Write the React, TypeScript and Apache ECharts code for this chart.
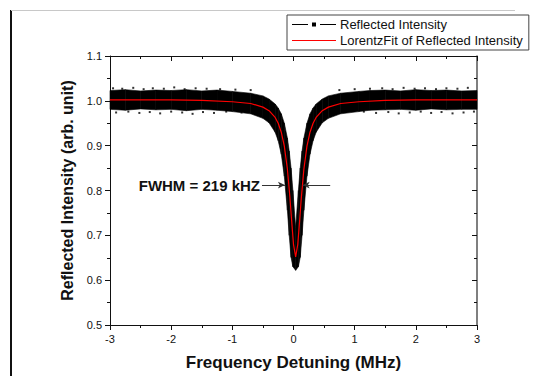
import React, { useEffect, useRef } from "react";
import * as echarts from "echarts";

// Lorentz fit curve
const fitX = [-3, -2.5, -2, -1.5, -1, -0.7, -0.5, -0.4, -0.3, -0.25, -0.2, -0.15, -0.1, -0.06, -0.03, 0, 0.035, 0.07, 0.1, 0.13, 0.17, 0.22, 0.27, 0.32, 0.37, 0.47, 0.57, 0.77, 1.07, 1.5, 2, 2.5, 3];
const fitY = [1.002, 1.002, 1.002, 1.001, 0.998, 0.994, 0.986, 0.978, 0.963, 0.95, 0.93, 0.899, 0.848, 0.787, 0.732, 0.68, 0.652, 0.68, 0.732, 0.787, 0.848, 0.899, 0.93, 0.95, 0.963, 0.978, 0.986, 0.994, 0.998, 1.001, 1.002, 1.002, 1.002];

// Envelope of the measured (noisy) reflected intensity
const bandX = [-3, -2.75, -2.5, -2.25, -2, -1.75, -1.5, -1.25, -1, -0.7, -0.5, -0.4, -0.3, -0.25, -0.2, -0.15, -0.1, -0.07, -0.04, -0.01, 0.035, 0.08, 0.11, 0.14, 0.17, 0.22, 0.27, 0.32, 0.37, 0.47, 0.57, 0.77, 1.07, 1.25, 1.5, 1.75, 2, 2.25, 2.5, 2.75, 3];
const bandHigh = [1.023, 1.025, 1.022, 1.024, 1.023, 1.025, 1.022, 1.024, 1.021, 1.017, 1.011, 1.004, 0.993, 0.984, 0.971, 0.95, 0.917, 0.888, 0.85, 0.8, 0.717, 0.8, 0.85, 0.888, 0.917, 0.95, 0.971, 0.984, 0.993, 1.004, 1.011, 1.017, 1.021, 1.023, 1.024, 1.022, 1.025, 1.023, 1.024, 1.022, 1.023];
const bandLow = [0.981, 0.979, 0.982, 0.98, 0.981, 0.978, 0.981, 0.979, 0.976, 0.971, 0.961, 0.951, 0.93, 0.911, 0.881, 0.832, 0.756, 0.7, 0.651, 0.63, 0.622, 0.63, 0.651, 0.7, 0.756, 0.832, 0.881, 0.911, 0.93, 0.951, 0.961, 0.971, 0.976, 0.979, 0.98, 0.981, 0.979, 0.982, 0.98, 0.981, 0.981];

// Scattered outlier specks above / below the band
const outTopX = [-2.95, -2.8, -2.62, -2.45, -2.3, -2.12, -1.95, -1.78, -1.6, -1.42, -1.2, -0.95, -0.7, 0.75, 1.0, 1.25, 1.45, 1.62, 1.8, 1.98, 2.15, 2.33, 2.5, 2.68, 2.85];
const outTopY = [1.028, 1.027, 1.029, 1.026, 1.028, 1.027, 1.03, 1.026, 1.028, 1.027, 1.026, 1.025, 1.024, 1.024, 1.026, 1.027, 1.028, 1.026, 1.029, 1.027, 1.028, 1.026, 1.028, 1.027, 1.029];
const outBotX = [-2.9, -2.7, -2.52, -2.35, -2.18, -2.0, -1.82, -1.65, -1.48, -1.3, -1.1, -0.85, 0.9, 1.15, 1.35, 1.55, 1.72, 1.9, 2.08, 2.25, 2.42, 2.6, 2.78, 2.95];
const outBotY = [0.974, 0.976, 0.973, 0.975, 0.972, 0.976, 0.974, 0.971, 0.975, 0.973, 0.976, 0.974, 0.977, 0.976, 0.973, 0.975, 0.972, 0.974, 0.976, 0.973, 0.975, 0.972, 0.974, 0.976];

const yTicks = ["0.5", "0.6", "0.7", "0.8", "0.9", "1.0", "1.1"];
const xTicks = ["-3", "-2", "-1", "0", "1", "2", "3"];

// FWHM annotation arrows (data coordinates)
const fwhmLevel = 0.812;
const leftArrow = [-0.515, -0.14];
const rightArrow = [0.6, 0.15];

const FONT = "'Liberation Sans', Arial, sans-serif";

export default function App() {
  const ref = useRef<HTMLDivElement>(null);
  useEffect(() => {
    if (!ref.current) return;
    const chart = echarts.init(ref.current, undefined, { renderer: "svg" });
    const bandData = bandX.map((x, i) => [x, bandLow[i], bandHigh[i]]);
    const outliers = [
      ...outTopX.map((x, i) => [x, outTopY[i]]),
      ...outBotX.map((x, i) => [x, outBotY[i]]),
    ];
    const axisLine = { show: true, onZero: false, lineStyle: { color: "#111", width: 1 } };
    const tick = (inside: boolean) => ({ show: true, inside, length: 5, lineStyle: { color: "#111" } });
    const minor = { show: true, splitNumber: 2, length: 3, lineStyle: { color: "#111" } };
    const option: any = {
      animation: false,
      backgroundColor: "#fff",
      textStyle: { fontFamily: FONT },
      grid: { left: 110, right: 64, top: 56, bottom: 54, containLabel: false },
      legend: {
        left: 287,
        top: 15,
        orient: "vertical",
        padding: [3, 6, 3, 5],
        itemGap: 3,
        itemWidth: 44,
        itemHeight: 10,
        borderColor: "#444",
        borderWidth: 1,
        borderRadius: 0,
        selectedMode: false,
        itemStyle: { borderWidth: 0 },
        textStyle: { fontFamily: FONT, fontSize: 13, color: "#111", padding: [0, 0, 0, -1] },
        data: [
          {
            name: "Reflected Intensity",
            icon: "path://M0,0H0.05V0.05H0Z M0,9.95H0.05V10H0Z M0,4.4H16V5.6H0Z M20,3H24V7H20Z M28,4.4H44V5.6H28Z",
          },
          {
            name: "LorentzFit of Reflected Intensity",
            icon: "path://M0,0H0.05V0.05H0Z M0,9.95H0.05V10H0Z M0,4.4H44V5.6H0Z",
          },
        ],
      },
      xAxis: [
        {
          type: "value",
          position: "bottom",
          min: -3,
          max: 3,
          interval: 1,
          axisLine,
          axisTick: tick(false),
          minorTick: minor,
          splitLine: { show: false },
          axisLabel: {
            margin: 8,
            fontSize: 11,
            color: "#111",
            fontFamily: FONT,
            formatter: (v: number) => xTicks[Math.round(v) + 3] ?? String(v),
          },
          name: "Frequency Detuning (MHz)",
          nameLocation: "middle",
          nameGap: 29,
          nameTextStyle: { fontSize: 17, fontWeight: "bold", color: "#111", fontFamily: FONT },
        },
        {
          type: "value",
          position: "top",
          min: -3,
          max: 3,
          interval: 1,
          axisLine,
          axisTick: tick(true),
          minorTick: minor,
          splitLine: { show: false },
          axisLabel: { show: false },
        },
      ],
      yAxis: [
        {
          type: "value",
          position: "left",
          min: 0.5,
          max: 1.1,
          interval: 0.1,
          axisLine,
          axisTick: tick(false),
          minorTick: minor,
          splitLine: { show: false },
          axisLabel: {
            margin: 8,
            fontSize: 11,
            color: "#111",
            fontFamily: FONT,
            formatter: (v: number) => yTicks[Math.round((v - 0.5) * 10)] ?? v.toFixed(1),
          },
          name: "Reflected Intensity (arb. unit)",
          nameLocation: "middle",
          nameGap: 30,
          nameTextStyle: { fontSize: 16, fontWeight: "bold", color: "#111", fontFamily: FONT },
        },
        {
          type: "value",
          position: "right",
          min: 0.5,
          max: 1.1,
          interval: 0.1,
          axisLine: { show: true, onZero: false, lineStyle: { color: "#555", width: 1.5 } },
          axisTick: tick(true),
          minorTick: minor,
          splitLine: { show: false },
          axisLabel: { show: false },
        },
      ],
      series: [
        {
          name: "Reflected Intensity",
          type: "custom",
          xAxisIndex: 0,
          yAxisIndex: 0,
          itemStyle: { color: "#000" },
          encode: { x: 0, y: [1, 2] },
          data: bandData,
          z: 2,
          renderItem: (params: any, api: any) => {
            const i = params.dataIndex;
            if (i >= bandData.length - 1) return null;
            const a = bandData[i];
            const b = bandData[i + 1];
            const p1 = api.coord([a[0], a[2]]);
            const p2 = api.coord([b[0], b[2]]);
            const p3 = api.coord([b[0], b[1]]);
            const p4 = api.coord([a[0], a[1]]);
            return {
              type: "polygon",
              shape: { points: [p1, p2, p3, p4] },
              style: { fill: "#000", stroke: "#000", lineWidth: 0.6 },
            };
          },
        },
        {
          name: "outliers",
          type: "scatter",
          symbol: "rect",
          symbolSize: 2,
          itemStyle: { color: "#000" },
          data: outliers,
          z: 2,
        },
        {
          name: "LorentzFit of Reflected Intensity",
          type: "line",
          xAxisIndex: 0,
          yAxisIndex: 0,
          showSymbol: false,
          symbol: "none",
          lineStyle: { color: "#ff0000", width: 1.2 },
          itemStyle: { color: "#ff0000" },
          data: fitX.map((x, i) => [x, fitY[i]]),
          z: 3,
          markLine: {
            silent: true,
            symbol: ["none", "arrow"],
            symbolSize: [5, 7],
            label: { show: false },
            lineStyle: { color: "#333", width: 1, type: "solid" },
            data: [
              [{ coord: [leftArrow[0], fwhmLevel] }, { coord: [leftArrow[1], fwhmLevel] }],
              [{ coord: [rightArrow[0], fwhmLevel] }, { coord: [rightArrow[1], fwhmLevel] }],
            ],
          },
        },
      ],
      graphic: [
        {
          type: "line",
          shape: { x1: 11, y1: 10, x2: 11, y2: 376 },
          style: { stroke: "#111", lineWidth: 2 },
        },
        {
          type: "line",
          shape: { x1: 11, y1: 10.5, x2: 515, y2: 10.5 },
          style: { stroke: "#c8c8c8", lineWidth: 1 },
        },
        {
          type: "text",
          x: 260,
          y: 185,
          z: 10,
          style: {
            text: "FWHM = 219 kHZ",
            fontFamily: FONT,
            fontSize: 15,
            fontWeight: "bold",
            fill: "#111",
            align: "right",
            verticalAlign: "middle",
          },
        },
      ],
    };
    chart.setOption(option);
    return () => chart.dispose();
  }, []);
  return (
    <div
      ref={ref}
      style={{ position: "fixed", left: 0, top: 0, width: 541, height: 379, background: "#fff" }}
    />
  );
}
